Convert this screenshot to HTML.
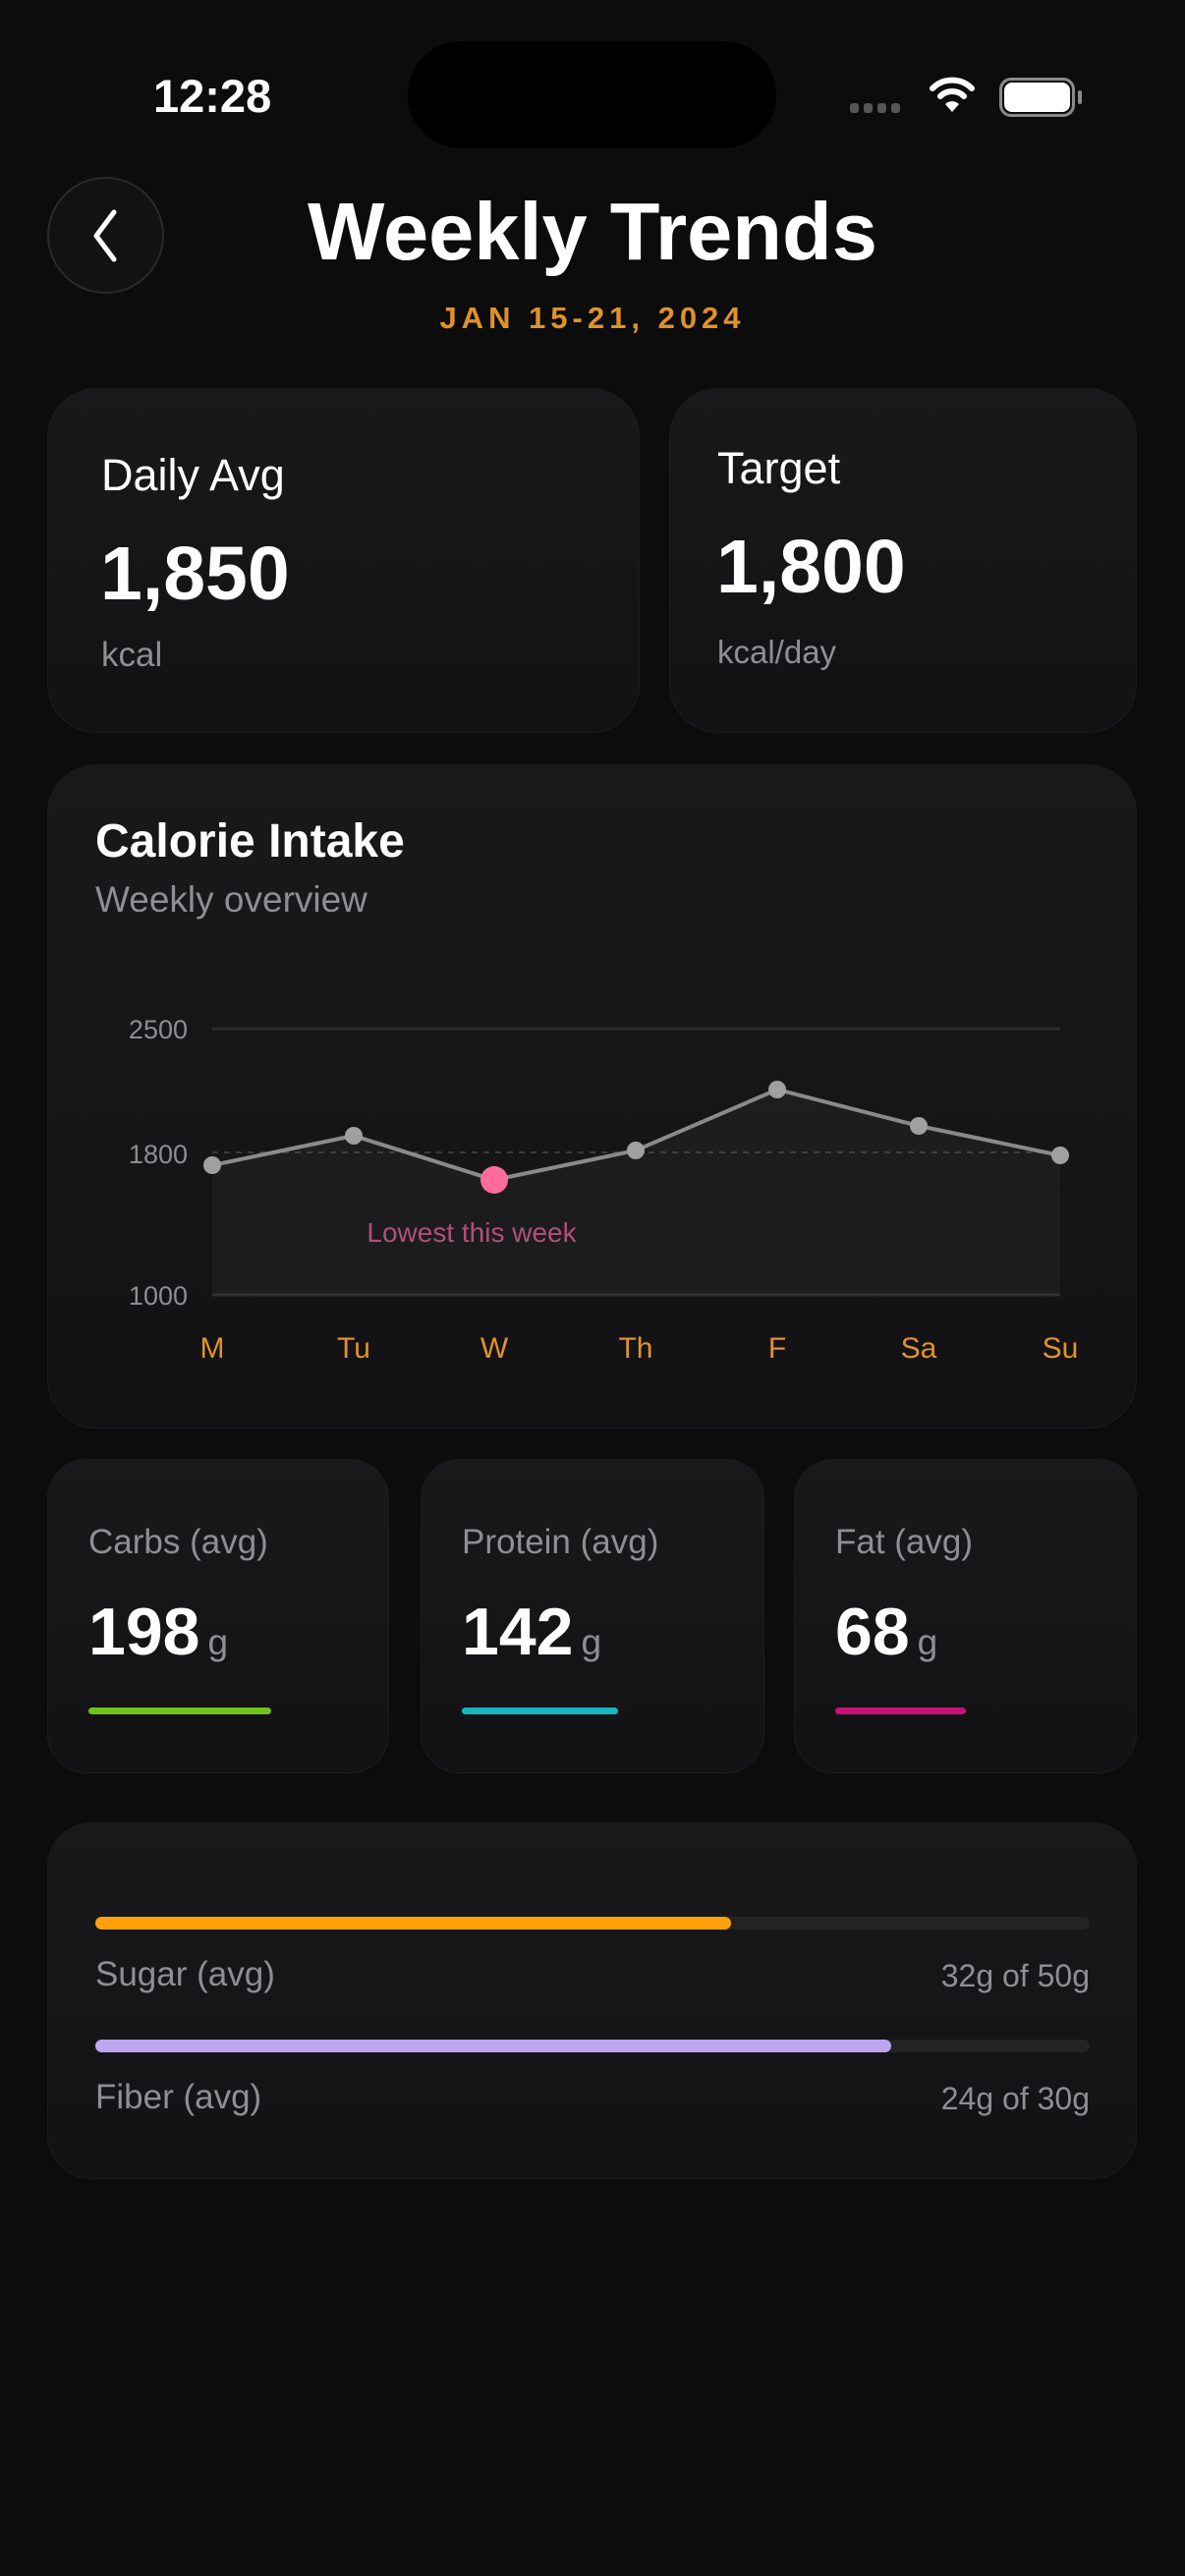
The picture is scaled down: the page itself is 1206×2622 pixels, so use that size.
<!DOCTYPE html>
<html><head><meta charset="utf-8"><style>
*{margin:0;padding:0;box-sizing:border-box}
body{width:1206px;height:2622px;background:#0c0c0d;font-family:"Liberation Sans",sans-serif;position:relative;overflow:hidden;color:#fff}
.a{position:absolute;white-space:nowrap}
.card{position:absolute;background:linear-gradient(180deg,#19191b,#121214);border-radius:50px;border:1px solid #1c1c1e}
.lbl{color:#8e8e93}
</style></head><body>
<div class="a" style="left:156px;top:70px;font-size:47px;font-weight:bold">12:28</div>
<div class="a" style="left:415px;top:42px;width:375px;height:109px;background:#000;border-radius:55px"></div>
<div class="a" style="left:865px;top:105px;width:58px;height:10px;display:flex;gap:5px"><i style="width:9px;height:10px;background:#555;border-radius:3px"></i><i style="width:9px;height:10px;background:#555;border-radius:3px"></i><i style="width:9px;height:10px;background:#555;border-radius:3px"></i><i style="width:9px;height:10px;background:#555;border-radius:3px"></i></div>
<svg class="a" style="left:945px;top:76px" width="48" height="40" viewBox="0 0 48 40"><path d="M4 14 A28 28 0 0 1 44 14" stroke="#fff" stroke-width="6" fill="none" stroke-linecap="round"/><path d="M12 22 A17 17 0 0 1 36 22" stroke="#fff" stroke-width="6" fill="none" stroke-linecap="round"/><path d="M17 30 L24 38 L31 30 A10 10 0 0 0 17 30Z" fill="#fff"/></svg>
<div class="a" style="left:1017px;top:79px;width:77px;height:40px;border:3px solid #8a8a8a;border-radius:12px"></div>
<div class="a" style="left:1022px;top:84px;width:67px;height:30px;background:#fff;border-radius:8px"></div>
<div class="a" style="left:1097px;top:92px;width:4px;height:14px;background:#8a8a8a;border-radius:2px"></div>

<div class="a" style="left:48px;top:180px;width:119px;height:119px;border-radius:50%;background:#121213;border:2px solid #2a2a2c"></div>
<svg class="a" style="left:86px;top:210px" width="40" height="60"><path d="M30 6 L12 30 L30 54" stroke="#fff" stroke-width="5" fill="none" stroke-linecap="round" stroke-linejoin="round"/></svg>
<div class="a" style="left:0;width:1206px;text-align:center;top:188px;font-size:83px;font-weight:bold">Weekly Trends</div>
<div class="a" style="left:0;width:1206px;text-align:center;top:306px;font-size:31px;font-weight:bold;letter-spacing:5px;color:#e0922a">JAN 15-21, 2024</div>

<div class="card" style="left:48px;top:395px;width:603px;height:351px"></div>
<div class="card" style="left:681px;top:395px;width:476px;height:351px"></div>
<div class="a" style="left:103px;top:458px;font-size:45px">Daily Avg</div>
<div class="a" style="left:102px;top:540px;font-size:77px;font-weight:bold">1,850</div>
<div class="a lbl" style="left:103px;top:647px;font-size:35px">kcal</div>
<div class="a" style="left:730px;top:451px;font-size:45px">Target</div>
<div class="a" style="left:729px;top:533px;font-size:77px;font-weight:bold">1,800</div>
<div class="a lbl" style="left:730px;top:645px;font-size:33px">kcal/day</div>

<div class="card" style="left:48px;top:778px;width:1109px;height:676px"></div>
<div class="a" style="left:97px;top:829px;font-size:48px;font-weight:bold">Calorie Intake</div>
<div class="a lbl" style="left:97px;top:895px;font-size:37px">Weekly overview</div>
<svg class="a" style="left:0;top:0" width="1206" height="1454">
<line x1="216" y1="1047" x2="1079" y2="1047" stroke="#2c2c2e" stroke-width="3"/>
<line x1="216" y1="1318" x2="1079" y2="1318" stroke="#2c2c2e" stroke-width="3"/>
<line x1="216" y1="1173" x2="1079" y2="1173" stroke="#3a3a3c" stroke-width="2" stroke-dasharray="6 6"/>
<path d="M216 1186 L360 1156 L503 1201 L647 1171 L791 1109 L935 1146 L1079 1176 L1079 1318 L216 1318Z" fill="#ffffff" fill-opacity="0.035"/>
<polyline points="216,1186 360,1156 503,1201 647,1171 791,1109 935,1146 1079,1176" fill="none" stroke="#8a8a8c" stroke-width="4"/>
<g fill="#a0a0a2"><circle cx="216" cy="1186" r="9"/><circle cx="360" cy="1156" r="9"/><circle cx="647" cy="1171" r="9"/><circle cx="791" cy="1109" r="9"/><circle cx="935" cy="1146" r="9"/><circle cx="1079" cy="1176" r="9"/></g>
<circle cx="503" cy="1201" r="14" fill="#ff6b9d"/>
<g font-family="Liberation Sans" font-size="27" fill="#8e8e93" text-anchor="end"><text x="191" y="1057">2500</text><text x="191" y="1184">1800</text><text x="191" y="1328">1000</text></g>
<text x="480" y="1264" font-family="Liberation Sans" font-size="28" fill="#b0507a" text-anchor="middle">Lowest this week</text>
<g font-family="Liberation Sans" font-size="30" fill="#e0922a" text-anchor="middle"><text x="216" y="1382">M</text><text x="360" y="1382">Tu</text><text x="503" y="1382">W</text><text x="647" y="1382">Th</text><text x="791" y="1382">F</text><text x="935" y="1382">Sa</text><text x="1079" y="1382">Su</text></g>
</svg>

<div class="card" style="left:48px;top:1485px;width:348px;height:320px;border-radius:40px"></div>
<div class="card" style="left:428px;top:1485px;width:350px;height:320px;border-radius:40px"></div>
<div class="card" style="left:808px;top:1485px;width:349px;height:320px;border-radius:40px"></div>
<div class="a lbl" style="left:90px;top:1550px;font-size:35px">Carbs (avg)</div>
<div class="a lbl" style="left:470px;top:1550px;font-size:35px">Protein (avg)</div>
<div class="a lbl" style="left:850px;top:1550px;font-size:35px">Fat (avg)</div>
<div class="a" style="left:90px;top:1622px;font-size:68px;font-weight:bold">198<span style="font-size:37px;font-weight:normal;color:#8e8e93;margin-left:8px">g</span></div>
<div class="a" style="left:470px;top:1622px;font-size:68px;font-weight:bold">142<span style="font-size:37px;font-weight:normal;color:#8e8e93;margin-left:8px">g</span></div>
<div class="a" style="left:850px;top:1622px;font-size:68px;font-weight:bold">68<span style="font-size:37px;font-weight:normal;color:#8e8e93;margin-left:8px">g</span></div>
<div class="a" style="left:90px;top:1738px;width:186px;height:7px;background:#6fc31a;border-radius:4px"></div>
<div class="a" style="left:470px;top:1738px;width:159px;height:7px;background:#19b5bf;border-radius:4px"></div>
<div class="a" style="left:850px;top:1738px;width:133px;height:7px;background:#c8117a;border-radius:4px"></div>

<div class="card" style="left:48px;top:1855px;width:1109px;height:363px;border-radius:45px"></div>
<div class="a" style="left:97px;top:1951px;width:1012px;height:13px;background:#232325;border-radius:7px"></div>
<div class="a" style="left:97px;top:1951px;width:647px;height:13px;background:#ff9f0a;border-radius:7px"></div>
<div class="a lbl" style="left:97px;top:1990px;font-size:35px">Sugar (avg)</div>
<div class="a lbl" style="right:97px;top:1993px;font-size:32px">32g of 50g</div>
<div class="a" style="left:97px;top:2076px;width:1012px;height:13px;background:#232325;border-radius:7px"></div>
<div class="a" style="left:97px;top:2076px;width:810px;height:13px;background:#bba6ef;border-radius:7px"></div>
<div class="a lbl" style="left:97px;top:2115px;font-size:35px">Fiber (avg)</div>
<div class="a lbl" style="right:97px;top:2118px;font-size:32px">24g of 30g</div>
</body></html>
